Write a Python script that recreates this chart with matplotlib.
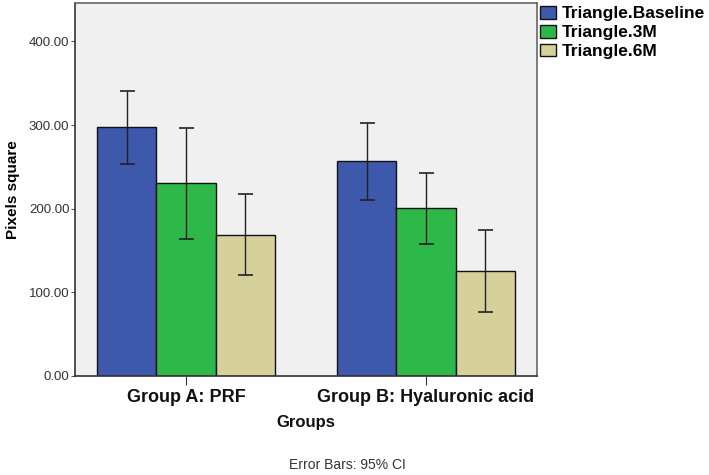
import matplotlib.pyplot as plt
import numpy as np

# Data
groups = ['Group A: PRF', 'Group B: Hyaluronic acid']
series = ['Triangle.Baseline', 'Triangle.3M', 'Triangle.6M']
means = [
    [298, 257],   # Baseline
    [231, 201],   # 3M
    [169, 125],   # 6M
]
ci_low = [
    [254, 211],
    [164, 158],
    [121, 77],
]
ci_high = [
    [341, 303],
    [297, 243],
    [218, 174],
]
colors = ['#3e58ac', '#2fb84a', '#d6d09a']
yticks = [0, 100, 200, 300, 400]

plt.rcParams['font.family'] = ['Liberation Sans', 'DejaVu Sans']

fig = plt.figure(figsize=(7.09, 4.75), dpi=100)
ax = fig.add_axes([75 / 709, 99 / 475, 462 / 709, 373 / 475])
ax.set_facecolor('#f0f0f0')

x = np.arange(len(groups))
width = 0.246
for i, name in enumerate(series):
    pos = x + (i - 1) * width
    m = np.array(means[i])
    err = [m - np.array(ci_low[i]), np.array(ci_high[i]) - m]
    ax.bar(pos, m, width, color=colors[i], edgecolor='#111111', linewidth=1,
           label=name, zorder=2)
    ax.errorbar(pos, m, yerr=err, fmt='none', ecolor='#222222', elinewidth=1,
                capsize=5.4, capthick=1.2, zorder=3)

ax.set_xlim(-0.4625, 1.4625)
ax.set_ylim(0, 446)
ax.set_yticks(yticks)
ax.set_yticklabels([f'{v:.2f}' for v in yticks], fontsize=9.5, color='#333333')
ax.tick_params(axis='y', length=3, pad=1, color='#555555')
ax.set_xticks(x)
ax.set_xticklabels(groups, fontsize=13, fontweight='bold', color='#111111')
ax.tick_params(axis='x', length=6.5, pad=3, color='#333333')

for s in ax.spines.values():
    s.set_color('#666666')
    s.set_linewidth(1.2)
ax.spines['left'].set_color('#333333')
ax.spines['bottom'].set_color('#333333')

ax.set_ylabel('Pixels square', fontsize=11, fontweight='bold', labelpad=6)
fig.text(306 / 709, 1 - 423 / 475, 'Groups', fontsize=12, fontweight='bold',
         ha='center', va='center', color='#111111')
fig.text(347 / 709, 1 - 465 / 475, 'Error Bars: 95% CI', fontsize=10,
         ha='center', va='center', color='#333333')

leg = ax.legend(loc='upper left', bbox_to_anchor=(540 / 709, 1 - 6 / 475),
                bbox_transform=fig.transFigure, frameon=False,
                prop={'weight': 'bold', 'size': 12.5}, handlelength=0.95,
                handleheight=0.75, handletextpad=0.28, labelspacing=0.2,
                borderpad=0, borderaxespad=0)

fig.savefig('out.png', dpi=100)
